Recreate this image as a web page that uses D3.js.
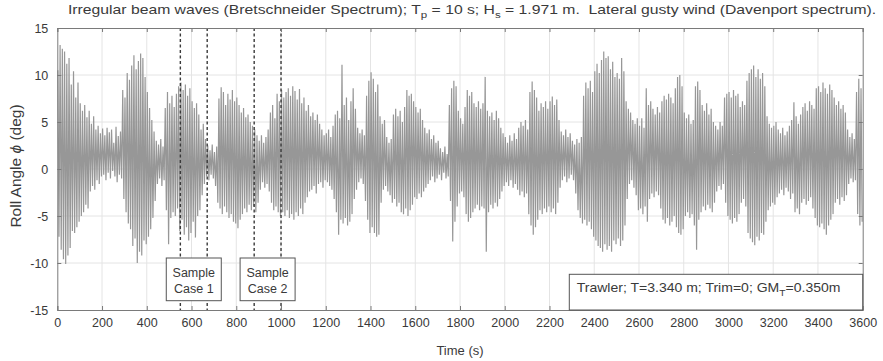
<!DOCTYPE html>
<html>
<head>
<meta charset="utf-8">
<script src="https://cdn.jsdelivr.net/npm/d3@7"></script>
<style>
  body { margin: 0; background: #fff; }
  svg { display: block; font-family: 'Liberation Sans', Arial, sans-serif; }
</style>
</head>
<body>
<div id="chart"></div>
<script>
// roll angle peaks (deg), one crest and one trough per 10 s
const sampleStep = 10;
const crests = [
  10.5, 13.2, 12.8, 12.5, 11.2, 11.8, 9.0, 10.4, 7.6, 9.2, 7.0, 6.2, 6.8, 5.5, 6.2, 4.8, 5.6, 4.2, 4.6, 3.8,
  4.3, 3.6, 4.4, 3.9, 4.2, 2.8, 4.5, 3.5, 4.0, 8.4, 7.6, 10.2, 9.5, 11.0, 12.1, 10.6, 11.5, 12.3, 11.8, 9.8,
  8.2, 6.5, 5.2, 4.0, 3.0, 2.6, 3.2, 2.4, 6.5, 8.2, 7.0, 7.8, 6.6, 8.0, 8.8, 9.2, 8.4, 9.0, 7.8, 8.6,
  7.2, 6.5, 7.0, 5.8, 4.2, 4.8, 3.2, 2.5, 2.0, 2.6, 1.8, 2.4, 7.5, 8.7, 8.2, 6.8, 8.0, 7.4, 8.4, 7.2,
  7.6, 6.8, 6.0, 6.5, 5.5, 5.8, 5.0, 4.6, 4.2, 3.6, 3.0, 3.6, 2.8, 3.4, 4.2, 6.0, 6.8, 5.4, 8.0, 7.2,
  8.4, 7.6, 8.2, 8.6, 7.8, 8.8, 8.3, 7.4, 8.5, 7.0, 7.6, 6.2, 6.8, 5.6, 6.0, 5.2, 5.8, 4.8, 4.2, 3.6,
  3.8, 4.2, 3.4, 4.6, 5.8, 6.2, 5.4, 11.1, 6.8, 7.6, 5.2, 7.2, 8.6, 6.4, 4.4, 3.8, 4.2, 3.6, 7.8, 9.4,
  10.3, 9.6, 8.2, 9.0, 5.6, 4.8, 5.2, 3.4, 2.8, 3.2, 5.8, 6.4, 5.6, 6.2, 5.0, 6.6, 8.4, 7.8, 8.0, 7.2,
  6.6, 6.0, 6.4, 5.2, 4.4, 3.8, 4.2, 3.2, 3.6, 2.8, 3.0, 2.2, 1.8, 2.4, 1.6, 6.8, 8.6, 9.4, 8.8, 6.2,
  5.4, 4.8, 6.6, 8.4, 7.8, 8.2, 7.0, 6.6, 7.2, 6.4, 7.0, 9.8, 6.2, 5.6, 6.0, 5.2, 6.2, 5.4, 4.4, 3.8,
  3.4, 2.8, 3.6, 3.0, 3.8, 3.2, 4.4, 5.0, 4.6, 5.2, 4.2, 8.2, 9.3, 8.4, 7.6, 6.2, 7.0, 6.6, 7.2, 6.4,
  7.2, 7.7, 6.8, 7.4, 5.2, 4.0, 3.6, 4.2, 3.4, 3.8, 3.0, 2.6, 3.2, 2.8, 3.4, 7.8, 9.2, 8.6, 9.4, 8.2,
  10.4, 11.2, 10.2, 11.6, 12.5, 11.8, 12.0, 10.6, 11.4, 9.8, 10.2, 9.6, 11.8, 10.4, 7.2, 6.4, 6.0, 5.2, 4.8, 5.4,
  4.6, 5.4, 4.4, 8.6, 6.8, 7.2, 6.4, 5.8, 6.6, 6.0, 7.2, 7.8, 7.4, 8.0, 7.6, 7.0, 8.6, 9.8, 10.0, 8.8,
  6.0, 5.4, 5.8, 4.8, 5.2, 8.8, 9.3, 8.4, 6.8, 6.2, 7.0, 5.8, 6.4, 5.0, 4.6, 4.2, 5.0, 4.6, 7.6, 8.0,
  8.2, 7.6, 8.4, 7.8, 8.0, 6.6, 7.2, 6.8, 9.4, 10.2, 10.6, 11.0, 9.8, 10.6, 9.6, 10.2, 8.8, 5.6, 4.8, 4.4,
  4.6, 5.0, 4.2, 3.8, 4.4, 3.6, 4.0, 4.6, 5.2, 7.1, 5.6, 4.8, 5.8, 6.6, 7.0, 6.2, 7.2, 6.8, 6.4, 8.6,
  8.8, 8.2, 9.2, 8.6, 8.0, 9.0, 8.4, 7.6, 6.8, 7.2, 6.4, 6.8, 6.0, 4.2, 3.4, 3.8, 3.2, 8.2, 9.6, 8.6
];
const troughs = [
  -7.2, -8.6, -9.6, -10.1, -9.2, -8.4, -6.6, -6.8, -6.2, -5.6, -5.0, -4.6, -3.8, -4.2, -2.4, -1.8, -2.2, -1.2, -1.6, -0.8,
  -0.6, -1.2, -0.4, -1.0, -0.2, -0.8, -1.4, -0.6, -1.0, -3.2, -4.6, -5.8, -6.4, -8.2, -7.4, -10.0, -8.8, -9.2, -7.6, -8.0,
  -7.2, -6.4, -5.2, -3.4, -1.6, -1.0, -1.8, -1.2, -4.4, -8.0, -5.2, -4.6, -5.0, -4.2, -6.6, -5.4, -7.0, -6.2, -7.6, -6.8,
  -5.6, -7.3, -5.0, -4.4, -2.8, -1.6, -0.8, -1.2, -0.6, -1.0, -1.8, -3.6, -4.2, -4.8, -4.0, -4.6, -5.2, -4.8, -5.6, -5.8,
  -6.3, -5.4, -4.8, -4.2, -4.6, -3.8, -4.4, -4.0, -4.6, -3.6, -2.2, -1.4, -2.0, -1.6, -2.4, -3.6, -4.4, -4.0, -4.6, -5.0,
  -4.6, -5.0, -4.4, -5.2, -4.8, -5.4, -4.6, -5.0, -4.2, -4.8, -3.6, -3.0, -2.4, -2.2, -1.8, -2.6, -1.6, -1.4, -2.0, -1.2,
  -1.4, -1.8, -2.2, -3.2, -4.6, -7.0, -5.4, -5.8, -5.2, -6.0, -5.6, -4.8, -3.2, -2.2, -1.4, -1.0, -1.6, -3.4, -5.4, -6.8,
  -6.2, -6.8, -7.2, -7.0, -3.6, -2.2, -1.8, -2.4, -2.8, -3.6, -3.2, -4.0, -3.6, -4.6, -4.8, -4.2, -5.0, -4.4, -3.8, -3.0,
  -3.2, -2.6, -3.0, -2.4, -2.0, -1.6, -1.2, -0.8, -1.4, -1.0, -0.6, -1.2, -0.4, -1.0, -0.8, -3.4, -7.7, -5.6, -4.0, -2.6,
  -2.4, -3.0, -4.8, -5.6, -5.2, -4.6, -4.2, -3.8, -4.4, -4.0, -4.2, -8.8, -4.6, -3.8, -4.2, -3.6, -4.0, -3.2, -2.4, -1.8,
  -1.4, -1.8, -1.2, -2.0, -1.6, -2.2, -2.8, -2.4, -3.0, -2.6, -4.8, -6.0, -7.0, -6.2, -5.4, -4.4, -4.8, -4.2, -4.6, -4.0,
  -4.6, -4.2, -4.8, -3.6, -2.0, -1.2, -0.8, -1.4, -1.0, -0.6, -1.2, -2.6, -4.4, -5.2, -5.8, -5.4, -6.0, -5.6, -6.4, -7.2,
  -7.6, -8.2, -8.4, -8.8, -8.0, -8.6, -8.2, -8.8, -7.6, -8.0, -7.4, -8.2, -7.6, -6.0, -3.2, -1.6, -1.2, -2.0, -2.8, -4.4,
  -4.2, -4.8, -4.0, -5.6, -3.2, -2.6, -3.0, -2.4, -2.8, -4.2, -5.4, -5.8, -5.2, -6.0, -5.6, -5.0, -6.2, -6.8, -7.0, -6.4,
  -5.0, -4.6, -5.2, -4.8, -6.0, -8.6, -5.4, -4.6, -4.0, -4.4, -3.8, -4.2, -4.6, -3.6, -2.4, -1.8, -2.2, -1.6, -3.6, -5.0,
  -5.4, -5.8, -5.2, -5.6, -4.8, -3.6, -3.2, -4.0, -6.8, -7.4, -7.8, -8.1, -7.2, -7.6, -6.8, -7.0, -5.6, -4.4, -4.0, -3.6,
  -3.8, -3.0, -2.6, -2.2, -2.8, -2.0, -2.4, -3.2, -2.6, -4.6, -4.2, -4.8, -3.6, -3.2, -3.8, -3.4, -3.0, -4.2, -5.2, -6.0,
  -6.2, -5.8, -6.4, -7.0, -6.0, -5.4, -4.8, -3.6, -3.2, -3.8, -3.0, -3.4, -2.8, -1.6, -1.0, -1.4, -1.2, -4.8, -6.0, -5.6
];

const xTicks = [0, 200, 400, 600, 800, 1000, 1200, 1400, 1600, 1800, 2000, 2200, 2400, 2600, 2800, 3000, 3200, 3400, 3600];
const yTicks = [-15, -10, -5, 0, 5, 10, 15];

// marked windows of the record (s)
const sampleCases = [
  { name: 'Case 1', from: 550, to: 670 },
  { name: 'Case 2', from: 880, to: 1000 }
];

const W = 883, H = 361;
const margin = { top: 28, right: 20.3, bottom: 51, left: 57.3 };
const width = W - margin.left - margin.right;
const height = H - margin.top - margin.bottom;
const textColor = '#3a3a3a';

const svg = d3.select('#chart').append('svg')
  .attr('width', W)
  .attr('height', H);

const g = svg.append('g')
  .attr('transform', `translate(${margin.left},${margin.top})`);

const x = d3.scaleLinear().domain([0, 3600]).range([0, width]);
const y = d3.scaleLinear().domain([-15, 15]).range([height, 0]);

// squeeze/stretch a text node horizontally so it spans `target` px from its left x
function fitWidth(sel, left, target) {
  const w = sel.node().getComputedTextLength();
  if (w > 0) sel.attr('transform', `translate(${left},0) scale(${target / w},1) translate(${-left},0)`);
}

// grid
g.append('g').selectAll('line')
  .data(xTicks.slice(1, -1))
  .enter().append('line')
  .attr('x1', d => x(d)).attr('x2', d => x(d))
  .attr('y1', 0).attr('y2', height)
  .attr('stroke', '#e4e4e4');

g.append('g').selectAll('line')
  .data(yTicks.slice(1, -1))
  .enter().append('line')
  .attr('x1', 0).attr('x2', width)
  .attr('y1', d => y(d)).attr('y2', d => y(d))
  .attr('stroke', '#e4e4e4');

// time series: alternate crest / trough
const points = [];
crests.forEach((c, i) => {
  points.push([i * sampleStep + 2.5, c]);
  points.push([i * sampleStep + 7.5, troughs[i]]);
});

g.append('path')
  .datum(points)
  .attr('fill', 'none')
  .attr('stroke', '#979797')
  .attr('stroke-width', 1.2)
  .attr('d', d3.line().x(d => x(d[0])).y(d => y(d[1])));

// dashed window markers
const marks = sampleCases.flatMap(s => [s.from, s.to]);
g.append('g').selectAll('line')
  .data(marks)
  .enter().append('line')
  .attr('x1', d => x(d)).attr('x2', d => x(d))
  .attr('y1', 0).attr('y2', height)
  .attr('stroke', '#3a3a3a')
  .attr('stroke-width', 1.4)
  .attr('stroke-dasharray', '3,2.5');

// axes (ticks inward, box on)
const axisColor = '#7a7a7a';
const tickLen = 4;

const xAxis = g.append('g')
  .attr('transform', `translate(0,${height})`)
  .call(d3.axisBottom(x).tickValues(xTicks).tickSize(-tickLen).tickPadding(8).tickFormat(d => String(d)));
const xTop = g.append('g')
  .call(d3.axisTop(x).tickValues(xTicks).tickSize(-tickLen).tickFormat(''));
const yAxis = g.append('g')
  .call(d3.axisLeft(y).tickValues(yTicks).tickSize(-tickLen).tickPadding(9).tickFormat(d => String(d)));
const yRight = g.append('g')
  .attr('transform', `translate(${width},0)`)
  .call(d3.axisRight(y).tickValues(yTicks).tickSize(-tickLen).tickFormat(''));

[xAxis, xTop, yAxis, yRight].forEach(a => {
  a.select('.domain').attr('stroke', axisColor);
  a.selectAll('.tick line').attr('stroke', axisColor);
  a.selectAll('.tick text')
    .attr('fill', textColor)
    .style('font-size', '12.5px')
    .style('font-family', "'Liberation Sans', Arial, sans-serif");
});

// sample case boxes
const boxW = 55, boxTop = 230, boxBottom = 272.7;
const boxes = g.append('g').selectAll('g')
  .data(sampleCases)
  .enter().append('g')
  .attr('transform', d => `translate(${(x(d.from) + x(d.to)) / 2},0)`);

boxes.append('rect')
  .attr('x', -boxW / 2)
  .attr('y', boxTop)
  .attr('width', boxW)
  .attr('height', boxBottom - boxTop)
  .attr('fill', '#fff')
  .attr('stroke', '#555');

boxes.append('text')
  .attr('text-anchor', 'middle')
  .attr('y', boxTop + 19)
  .attr('fill', textColor)
  .style('font-size', '12.5px')
  .text('Sample');

boxes.append('text')
  .attr('text-anchor', 'middle')
  .attr('y', boxTop + 34.5)
  .attr('fill', textColor)
  .style('font-size', '12.5px')
  .text(d => d.name);

// vessel annotation box
const note = g.append('g');
note.append('rect')
  .attr('x', 569.3 - margin.left)
  .attr('y', 274.3 - margin.top)
  .attr('width', width - (569.3 - margin.left))
  .attr('height', height - (274.3 - margin.top))
  .attr('fill', '#fff')
  .attr('stroke', '#555');

const noteLeft = 576.7 - margin.left;
const noteText = note.append('text')
  .attr('x', noteLeft)
  .attr('y', 292 - margin.top)
  .attr('fill', textColor)
  .style('font-size', '13px');
noteText.append('tspan').text('Trawler; T=3.340 m; Trim=0; GM');
noteText.append('tspan').attr('dy', 4).style('font-size', '9.5px').text('T');
noteText.append('tspan').attr('dy', -4).text('=0.350m');
fitWidth(noteText, noteLeft, 264);

// axis labels
g.append('text')
  .attr('x', width / 2)
  .attr('y', height + 45)
  .attr('text-anchor', 'middle')
  .attr('fill', textColor)
  .style('font-size', '13px')
  .text('Time (s)');

const yLabel = g.append('text')
  .attr('transform', `translate(${-margin.left + 21},${height / 2 - 3}) rotate(-90)`)
  .attr('text-anchor', 'middle')
  .attr('fill', textColor)
  .style('font-size', '15.5px');
yLabel.append('tspan').text('Roll Angle ');
yLabel.append('tspan').style('font-style', 'italic').text('ϕ');
yLabel.append('tspan').text(' (deg)');

// title
const title = svg.append('text')
  .attr('x', 68)
  .attr('y', 14)
  .attr('fill', textColor)
  .style('font-size', '13px');
title.append('tspan').text('Irregular beam waves (Bretschneider Spectrum); T');
title.append('tspan').attr('dy', 4).style('font-size', '9.5px').text('p');
title.append('tspan').attr('dy', -4).text(' = 10 s; H');
title.append('tspan').attr('dy', 4).style('font-size', '9.5px').text('s');
title.append('tspan').attr('dy', -4).text(' = 1.971 m.\u00a0\u00a0Lateral gusty wind (Davenport spectrum).');
fitWidth(title, 68, 877 - 68);
</script>
</body>
</html>
